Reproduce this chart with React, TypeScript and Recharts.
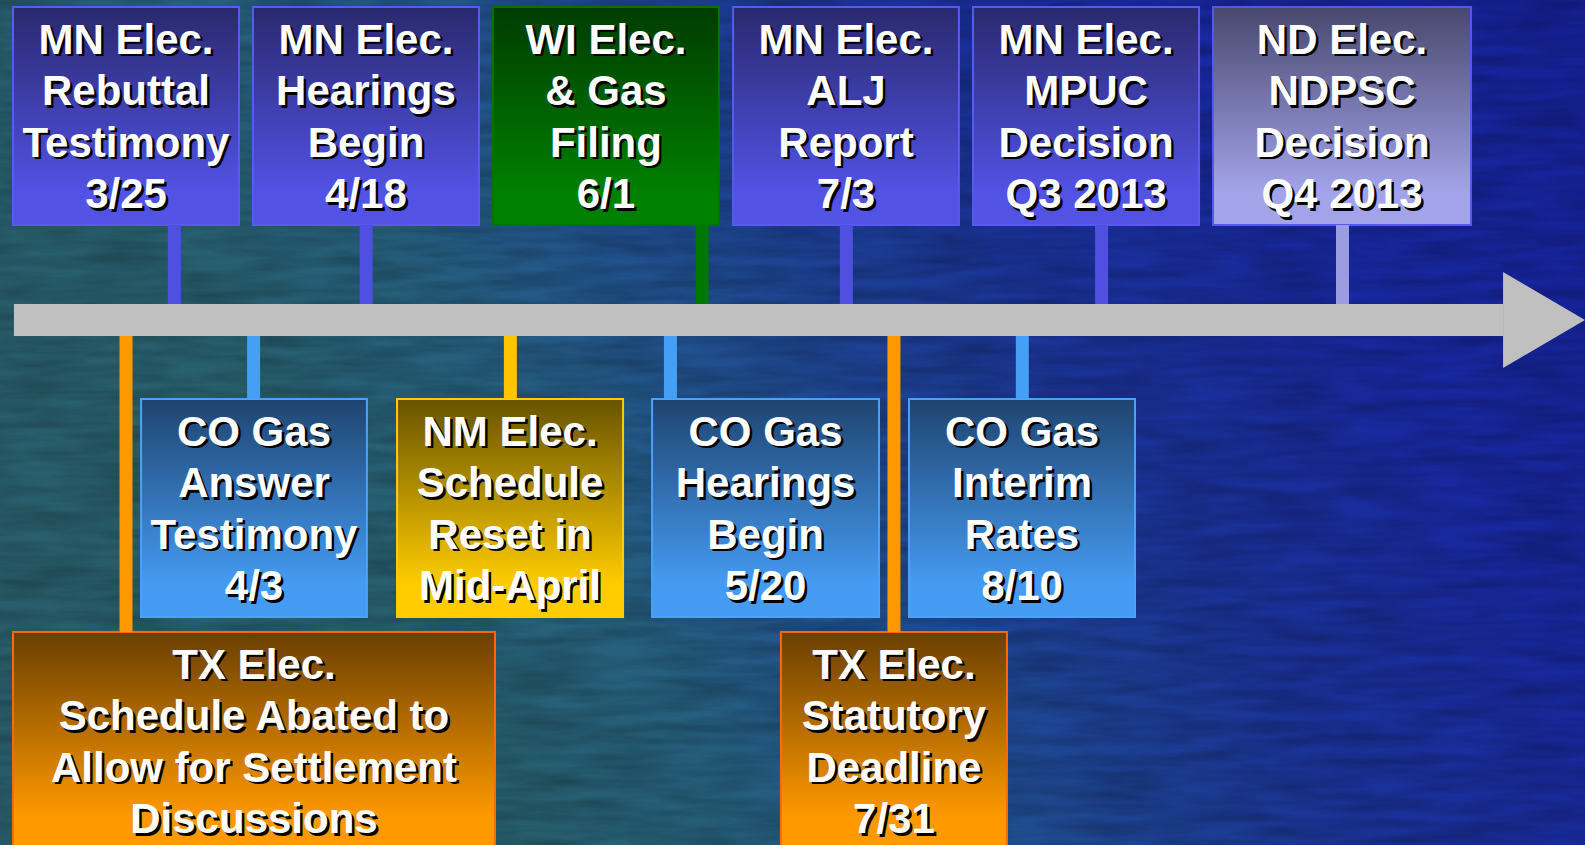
import React from 'react';
import { ComposedChart, XAxis, YAxis, ReferenceArea, ReferenceLine, Scatter } from 'recharts';

const WIDTH = 1585;
const HEIGHT = 845;

// milestones above the timeline
const topLabels = [
  ['MN Elec.', 'Rebuttal', 'Testimony', '3/25'],
  ['MN Elec.', 'Hearings', 'Begin', '4/18'],
  ['WI Elec.', '& Gas', 'Filing', '6/1'],
  ['MN Elec.', 'ALJ', 'Report', '7/3'],
  ['MN Elec.', 'MPUC', 'Decision', 'Q3 2013'],
  ['ND Elec.', 'NDPSC', 'Decision', 'Q4 2013'],
];
const topKinds = ['mn', 'mn', 'wi', 'mn', 'mn', 'nd'];
// where each milestone meets the arrow (0-100 along the timeline)
const topMarks = [11.0, 23.1, 44.3, 53.4, 69.5, 84.7];

// milestones just below the timeline
const midLabels = [
  ['CO Gas', 'Answer', 'Testimony', '4/3'],
  ['NM Elec.', 'Schedule', 'Reset in', 'Mid-April'],
  ['CO Gas', 'Hearings', 'Begin', '5/20'],
  ['CO Gas', 'Interim', 'Rates', '8/10'],
];
const midKinds = ['co', 'nm', 'co', 'co'];
const midMarks = [16.0, 32.2, 42.3, 64.5];

// bottom row (Texas)
const lowLabels = [
  ['TX Elec.', 'Schedule Abated to', 'Allow for Settlement', 'Discussions'],
  ['TX Elec.', 'Statutory', 'Deadline', '7/31'],
];
const lowKinds = ['tx', 'tx'];
const lowMarks = [7.95, 56.4];

// layout: box spans along x, row bands along y (axis units)
const topSpans = [[0.82, 15.08], [15.96, 30.22], [31.1, 45.36], [46.25, 60.5], [61.39, 75.65], [76.53, 92.81]];
const midSpans = [[8.9, 23.15], [25.05, 39.31], [41.14, 55.46], [57.35, 71.61]];
const lowSpans = [[0.82, 31.23], [49.27, 63.53]];
const TOP_ROW = [73.37, 99.17];
const MID_ROW = [26.98, 52.78];
const LOW_ROW = [-0.6, 25.21];
const BAR_Y = [60.24, 64.02];
const HEAD_Y = [56.45, 67.81];
const BAR_X = [0.88, 94.83];
const HEAD_X = [94.83, 100];

const PALETTE: Record<string, { top: string; bottom: string; border: string; stem: string }> = {
  mn: { top: '#29296f', bottom: '#5252e4', border: '#5a5af2', stem: '#5050e0' },
  wi: { top: '#003b00', bottom: '#008000', border: '#007600', stem: '#007700' },
  nd: { top: '#48486e', bottom: '#a3a3ea', border: '#5757ee', stem: '#9c9ce2' },
  co: { top: '#1f4470', bottom: '#459bf2', border: '#4aa2fa', stem: '#45a0f5' },
  nm: { top: '#675300', bottom: '#ffcc00', border: '#ffcc00', stem: '#ffc400' },
  tx: { top: '#6a3f00', bottom: '#ff9900', border: '#ff6a00', stem: '#ff9900' },
};

const FONT = '"Liberation Sans", Arial, sans-serif';
const LINE_H = 51.5;

function boxShape(lines: string[], kind: string) {
  return (props: any) => {
    const { x, y, width, height } = props;
    const c = PALETTE[kind];
    const cx = x + width / 2;
    const cy = y + height / 2;
    const n = lines.length;
    return (
      <g>
        <rect x={x} y={y} width={width} height={height} fill={`url(#grad-${kind})`} stroke={c.border} strokeWidth={2} />
        {lines.map((t, i) => {
          const by = cy + (i - (n - 1) / 2) * LINE_H + 15;
          return (
            <g key={i} fontFamily={FONT} fontWeight="bold" fontSize={42} textAnchor="middle">
              <text x={cx + 2.5} y={by + 2.5} fill="#000">{t}</text>
              <text x={cx} y={by} fill="#fff">{t}</text>
            </g>
          );
        })}
      </g>
    );
  };
}

const arrowHead = (props: any) => {
  const { x, y, width, height } = props;
  return <polygon points={`${x},${y} ${x + width},${y + height / 2} ${x},${y + height}`} fill="#c0c0c0" />;
};

const markPoints = [...topMarks, ...midMarks, ...lowMarks].map((m) => ({ x: m, y: (BAR_Y[0] + BAR_Y[1]) / 2 }));

export default function App() {
  const stems: React.ReactNode[] = [];
  topMarks.forEach((m, i) =>
    stems.push(
      <ReferenceLine key={`t${i}`} segment={[{ x: m, y: TOP_ROW[0] }, { x: m, y: BAR_Y[1] }]}
        stroke={PALETTE[topKinds[i]].stem} strokeWidth={13} ifOverflow="visible" />
    )
  );
  midMarks.forEach((m, i) =>
    stems.push(
      <ReferenceLine key={`m${i}`} segment={[{ x: m, y: BAR_Y[0] }, { x: m, y: MID_ROW[1] }]}
        stroke={PALETTE[midKinds[i]].stem} strokeWidth={13} ifOverflow="visible" />
    )
  );
  lowMarks.forEach((m, i) =>
    stems.push(
      <ReferenceLine key={`l${i}`} segment={[{ x: m, y: BAR_Y[0] }, { x: m, y: LOW_ROW[1] }]}
        stroke={PALETTE[lowKinds[i]].stem} strokeWidth={13} ifOverflow="visible" />
    )
  );

  return (
    <div
      style={{
        position: 'absolute',
        left: 0,
        top: 0,
        width: WIDTH,
        height: HEIGHT,
        overflow: 'hidden',
        background:
          'linear-gradient(59deg, #2a5f6c 0%, #28606f 25%, #26607e 36%, #21538e 46%, #1d4294 55%, #1a3299 66%, #1828a0 80%, #16219a 100%)',
      }}
    >
      <svg width={WIDTH} height={HEIGHT} style={{ position: 'absolute', left: 0, top: 0 }}>
        <filter id="grain">
          <feTurbulence type="fractalNoise" baseFrequency="0.012 0.09" numOctaves={3} seed={4} />
          <feColorMatrix type="matrix" values="0 0 0 0 0  0 0 0 0 0  0 0 0 0 0  0.4 0 0 0 -0.1" />
        </filter>
        <rect width={WIDTH} height={HEIGHT} filter="url(#grain)" />
      </svg>
      <div style={{ position: 'absolute', left: 0, top: 0 }}>
        <ComposedChart width={WIDTH} height={HEIGHT} margin={{ top: 0, right: 0, bottom: 0, left: 0 }}>
          <defs>
            {Object.entries(PALETTE).map(([k, c]) => (
              <linearGradient key={k} id={`grad-${k}`} x1="0" y1="0" x2="0" y2="1">
                <stop offset="0%" stopColor={c.top} />
                <stop offset="85%" stopColor={c.bottom} />
              </linearGradient>
            ))}
          </defs>
          <XAxis type="number" dataKey="x" domain={[0, 100]} hide allowDataOverflow />
          <YAxis type="number" dataKey="y" domain={[0, 100]} hide allowDataOverflow />
          {stems}
          <ReferenceArea x1={BAR_X[0]} x2={BAR_X[1]} y1={BAR_Y[0]} y2={BAR_Y[1]} fill="#c0c0c0" fillOpacity={1} ifOverflow="visible" />
          <ReferenceArea x1={HEAD_X[0]} x2={HEAD_X[1]} y1={HEAD_Y[0]} y2={HEAD_Y[1]} shape={arrowHead} ifOverflow="visible" />
          {topLabels.map((l, i) => (
            <ReferenceArea key={`tb${i}`} x1={topSpans[i][0]} x2={topSpans[i][1]} y1={TOP_ROW[0]} y2={TOP_ROW[1]}
              shape={boxShape(l, topKinds[i])} ifOverflow="visible" />
          ))}
          {midLabels.map((l, i) => (
            <ReferenceArea key={`mb${i}`} x1={midSpans[i][0]} x2={midSpans[i][1]} y1={MID_ROW[0]} y2={MID_ROW[1]}
              shape={boxShape(l, midKinds[i])} ifOverflow="visible" />
          ))}
          {lowLabels.map((l, i) => (
            <ReferenceArea key={`lb${i}`} x1={lowSpans[i][0]} x2={lowSpans[i][1]} y1={LOW_ROW[0]} y2={LOW_ROW[1]}
              shape={boxShape(l, lowKinds[i])} ifOverflow="visible" />
          ))}
          <Scatter data={markPoints} isAnimationActive={false} shape={() => <g />} />
        </ComposedChart>
      </div>
    </div>
  );
}
